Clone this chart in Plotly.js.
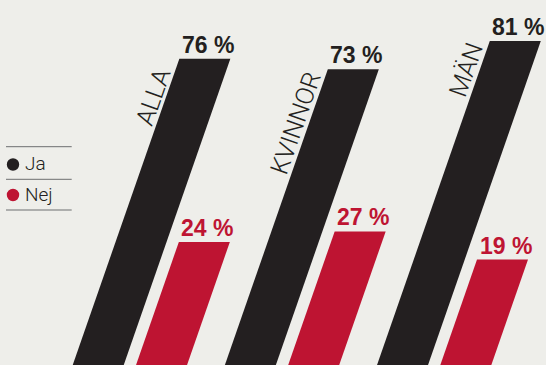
<!DOCTYPE html>
<html>
<head>
<meta charset="utf-8">
<script src="https://cdn.plot.ly/plotly-3.0.1.min.js"></script>
<style>html,body{margin:0;padding:0;background:#eeeeea;}#chart{width:546px;height:365px;}</style>
</head>
<body>
<div id="chart"></div>
<script>
// ---- data ----
const categories = ['ALLA', 'KVINNOR', 'MÄN'];
const jaValues = [76, 73, 81];
const nejValues = [24, 27, 19];
const seriesNames = ['Ja', 'Nej'];

// ---- styles / geometry ----
const colJa = '#231f20';
const colNej = '#be1432';
const bg = '#eeeeea';
const W = 546, H = 365;
const pxPerCat = 152.15;          // pixels per category unit
const slant = 1.227 / pxPerCat;   // x shift (category units) per value unit
const barW = 51 / pxPerCat;
const nejOffset = 63.3 / pxPerCat;
const base = -15;                 // bars run off the bottom edge

function para(i, off, v) {
  const x0 = i + off;
  return {
    x: [x0 + slant * base, x0 + barW + slant * base, x0 + barW + slant * v, x0 + slant * v, x0 + slant * base],
    y: [base, base, v, v, base]
  };
}

const traces = [];
categories.forEach((c, i) => {
  [[jaValues, 0, colJa, seriesNames[0]], [nejValues, nejOffset, colNej, seriesNames[1]]].forEach(([vals, off, col, nm]) => {
    const p = para(i, off, vals[i]);
    traces.push({
      type: 'scatter', mode: 'lines', x: p.x, y: p.y, fill: 'toself',
      fillcolor: col, line: {width: 0, color: col}, name: nm, showlegend: false, hoverinfo: 'skip'
    });
  });
});

const annotations = [];
const along = [45, 62, 35];
const perp = 12.5;
const valFont = 'Liberation Sans, Arial, sans-serif';
categories.forEach((c, i) => {
  // value labels
  annotations.push({
    x: i + slant * jaValues[i] + barW / 2, y: jaValues[i], xref: 'x', yref: 'y',
    text: jaValues[i] + ' %', showarrow: false, xanchor: 'center', yanchor: 'bottom',
    xshift: 3, yshift: -1,
    font: {family: valFont, size: 23, color: colJa, weight: 'bold'}
  });
  annotations.push({
    x: i + nejOffset + slant * nejValues[i] + barW / 2, y: nejValues[i], xref: 'x', yref: 'y',
    text: nejValues[i] + ' %', showarrow: false, xanchor: 'center', yanchor: 'bottom',
    xshift: 3, yshift: -1,
    font: {family: valFont, size: 23, color: colNej, weight: 'bold'}
  });
  // category labels (slanted, parallel to the bars)
  const a = along[i];
  annotations.push({
    x: i + slant * jaValues[i], y: jaValues[i], xref: 'x', yref: 'y',
    text: c, showarrow: false, xanchor: 'center', yanchor: 'middle', textangle: -70.8,
    xshift: -0.329 * a - 0.944 * perp, yshift: -(0.944 * a - 0.329 * perp),
    font: {family: 'Roboto, Liberation Sans, sans-serif', size: 25, color: colJa, weight: 300}
  });
});

// legend (drawn manually)
const legY = [164.5, 195];
const legCol = [colJa, colNej];
const shapes = [];
[146.7, 179.3, 210].forEach(y => {
  shapes.push({type: 'line', xref: 'paper', yref: 'paper', x0: 6 / W, x1: 71.7 / W, y0: 1 - y / H, y1: 1 - y / H,
    line: {color: '#6d6e70', width: 1}});
});
seriesNames.forEach((nm, k) => {
  const cy = legY[k], cx = 13, r = 6.2;
  shapes.push({type: 'circle', xref: 'paper', yref: 'paper', x0: (cx - r) / W, x1: (cx + r) / W,
    y0: 1 - (cy + r) / H, y1: 1 - (cy - r) / H, fillcolor: legCol[k], line: {width: 0}});
  annotations.push({xref: 'paper', yref: 'paper', x: 23 / W, y: 1 - cy / H, xanchor: 'left', yanchor: 'middle',
    text: nm, showarrow: false, yshift: 1,
    font: {family: 'Roboto, Liberation Sans, sans-serif', size: 19, color: colJa, weight: 300}});
});

const layout = {
  width: W, height: H,
  margin: {l: 0, r: 0, t: 0, b: 0},
  paper_bgcolor: bg, plot_bgcolor: bg,
  showlegend: false,
  xaxis: {range: [-86.1 / pxPerCat, (W - 86.1) / pxPerCat], visible: false, fixedrange: true},
  yaxis: {range: [-10.89, 92.63], visible: false, fixedrange: true},
  annotations: annotations,
  shapes: shapes
};

Plotly.newPlot('chart', traces, layout, {displayModeBar: false, staticPlot: true});
</script>
</body>
</html>
